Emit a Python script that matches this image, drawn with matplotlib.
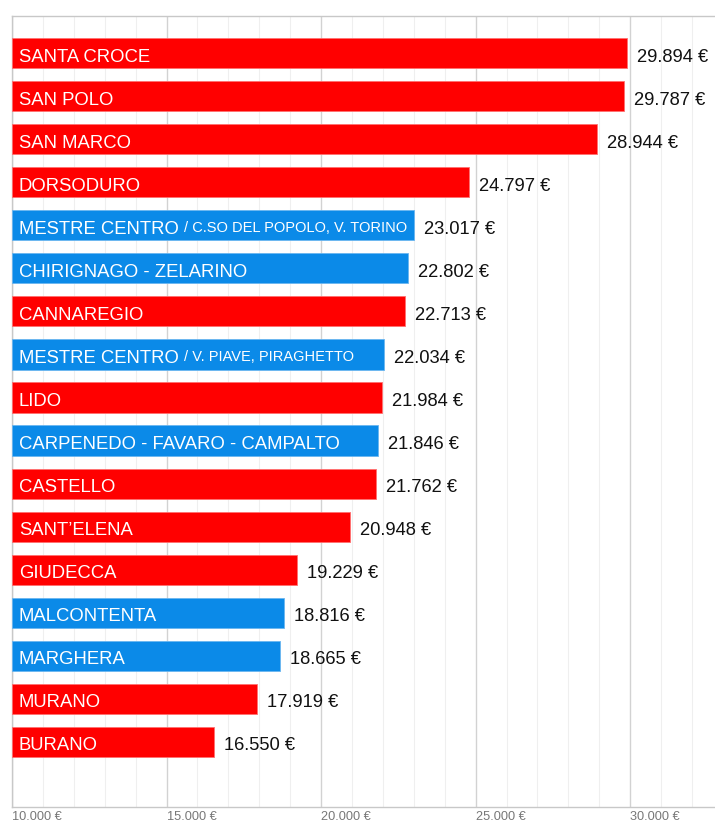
import matplotlib
matplotlib.use("Agg")
import matplotlib.pyplot as plt
from matplotlib.ticker import MultipleLocator

plt.rcParams['font.family'] = ['Liberation Sans', 'DejaVu Sans']

names = ["SANTA CROCE", "SAN POLO", "SAN MARCO", "DORSODURO", "MESTRE CENTRO",
         "CHIRIGNAGO - ZELARINO", "CANNAREGIO", "MESTRE CENTRO", "LIDO",
         "CARPENEDO - FAVARO - CAMPALTO", "CASTELLO", "SANT’ELENA", "GIUDECCA",
         "MALCONTENTA", "MARGHERA", "MURANO", "BURANO"]
subnames = ["", "", "", "", "/ C.SO DEL POPOLO, V. TORINO", "", "",
            "/ V. PIAVE, PIRAGHETTO", "", "", "", "", "", "", "", "", ""]
values = [29894, 29787, 28944, 24797, 23017, 22802, 22713, 22034, 21984,
          21846, 21762, 20948, 19229, 18816, 18665, 17919, 16550]
areas = ["V", "V", "V", "V", "T", "T", "V", "T", "V", "T", "V", "V", "V",
         "T", "T", "V", "V"]
tick_values = [10000, 15000, 20000, 25000, 30000]
tick_labels = ["10.000 €", "15.000 €", "20.000 €", "25.000 €", "30.000 €"]

colors = {"V": "#FF0000", "T": "#0B8AE8"}
edges = {"V": "#FF7070", "T": "#6AB6F0"}

W, H = 715, 823
fig = plt.figure(figsize=(W / 100, H / 100), dpi=100)
ax = fig.add_axes([12 / W, (H - 807) / H, (W - 12) / W + 0.01, (807 - 16) / H])

xmin = 10000
xmax = xmin + (W - 12) / 155 * 5000 + 300
ax.set_xlim(xmin, xmax)
ax.set_ylim(len(values) - 1 + 1.51, -0.86)

ypos = list(range(len(values)))
for y, v, a in zip(ypos, values, areas):
    ax.barh(y, v - xmin, left=xmin, height=0.70, color=colors[a],
            edgecolor=edges[a], linewidth=0.6, zorder=3)

for y, n, s, v in zip(ypos, names, subnames, values):
    t = ax.annotate(n, xy=(xmin, y), xytext=(7, -2), textcoords='offset pixels',
                    color='white', fontsize=13.3, va='center_baseline', ha='left', zorder=4)
    if s:
        ax.annotate(s, xy=(1, 0), xycoords=t, xytext=(5, 2.5),
                    textcoords='offset pixels', color='white', fontsize=10.5,
                    va='bottom', ha='left', zorder=4)
    ax.annotate(f"{v:,}".replace(",", ".") + " €", xy=(v, y), xytext=(10, -2),
                textcoords='offset pixels', color='#111111', fontsize=13.2,
                va='center_baseline', ha='left', zorder=4)

ax.set_xticks(tick_values)
ax.set_xticklabels(tick_labels, ha='left', fontsize=9.2, color='#777777')
ax.xaxis.set_minor_locator(MultipleLocator(1000))
ax.tick_params(axis='x', which='both', length=0, pad=3)
ax.set_yticks([])
ax.grid(axis='x', which='major', color='#D2D2D2', linewidth=1.0, zorder=0)
ax.grid(axis='x', which='minor', color='#EFEFEF', linewidth=0.8, zorder=0)
for side in ['left', 'top', 'bottom']:
    ax.spines[side].set_color('#C8C8C8')
    ax.spines[side].set_linewidth(1.0)
ax.spines['right'].set_visible(False)

fig.savefig("out.png", dpi=100)
